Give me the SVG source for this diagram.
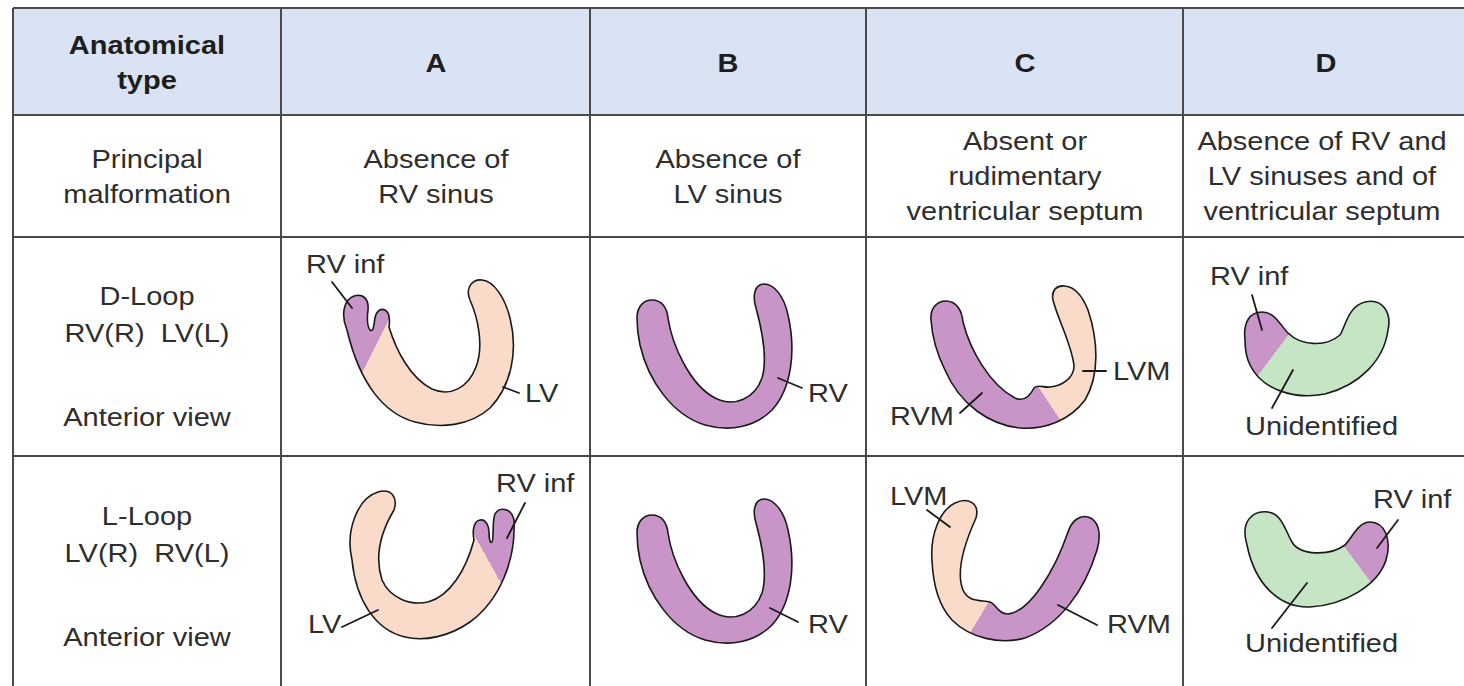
<svg xmlns="http://www.w3.org/2000/svg" width="1464" height="686" viewBox="0 0 1464 686">
  <style>
    .grid { stroke: #4a4a4a; stroke-width: 2; fill: none; }
    .hdr { fill: #dae3f3; }
    .t { font-family: "Liberation Sans", Arial, sans-serif; font-size: 25px; fill: #2e2e2e; text-anchor: middle; }
    .tb { font-family: "Liberation Sans", Arial, sans-serif; font-size: 25px; font-weight: bold; fill: #1e1e1e; text-anchor: middle; }
    .lbl { font-family: "Liberation Sans", Arial, sans-serif; font-size: 25px; fill: #2e2e2e; text-anchor: start; }
    .heart { stroke: #1a1a1a; stroke-width: 1.6; stroke-linejoin: round; }
    .lead { stroke: #1a1a1a; stroke-width: 1.8; stroke-linecap: round; fill: none; }
  </style>
  <defs>
    <!-- two-tone fills: hard colour change along each chamber boundary -->
    <linearGradient id="gA1" gradientUnits="userSpaceOnUse" x1="367" y1="340" x2="385" y2="349">
      <stop offset="0.5" stop-color="#c994c7"/><stop offset="0.5" stop-color="#fadbc9"/>
    </linearGradient>
    <linearGradient id="gC1" gradientUnits="userSpaceOnUse" x1="1034" y1="413" x2="1064" y2="393">
      <stop offset="0.5" stop-color="#c994c7"/><stop offset="0.5" stop-color="#fadbc9"/>
    </linearGradient>
    <linearGradient id="gD1" gradientUnits="userSpaceOnUse" x1="1262" y1="345" x2="1286" y2="363">
      <stop offset="0.5" stop-color="#c994c7"/><stop offset="0.5" stop-color="#c6e5c5"/>
    </linearGradient>
    <linearGradient id="gA2" gradientUnits="userSpaceOnUse" x1="478" y1="563" x2="496" y2="553">
      <stop offset="0.5" stop-color="#fadbc9"/><stop offset="0.5" stop-color="#c994c7"/>
    </linearGradient>
    <linearGradient id="gC2" gradientUnits="userSpaceOnUse" x1="969" y1="612" x2="989" y2="624">
      <stop offset="0.5" stop-color="#fadbc9"/><stop offset="0.5" stop-color="#c994c7"/>
    </linearGradient>
    <linearGradient id="gD2" gradientUnits="userSpaceOnUse" x1="1350" y1="571" x2="1366" y2="559">
      <stop offset="0.5" stop-color="#c6e5c5"/><stop offset="0.5" stop-color="#c994c7"/>
    </linearGradient>
    <path id="uRV" d="M 637,318 C 637,305 645,300 652,300 C 662,300 667,308 668,318 C 672,345 690,385 715,398 C 735,408 755,398 762,378 C 768,358 762,330 756,308 C 752,295 755,284 764,284 C 774,284 784,296 788,315 C 796,350 792,388 772,410 C 755,427 730,432 705,425 C 672,415 648,380 640,345 C 638,336 637,327 637,318 Z"/>
  </defs>

  <rect width="1464" height="686" fill="#ffffff"/>

  <!-- table frame -->
  <g id="table">
    <rect class="hdr" x="13" y="8" width="1462" height="107"/>
    <path class="grid" d="M 13,8 H 1475 M 13,115 H 1475 M 13,237 H 1475 M 13,456 H 1475 M 13,8 V 686 M 281,8 V 686 M 590,8 V 686 M 866,8 V 686 M 1183,8 V 686"/>
  </g>

  <!-- header row -->
  <g id="header">
    <text class="tb" transform="translate(147 54) scale(1.16 1)">Anatomical</text>
    <text class="tb" transform="translate(147 89) scale(1.16 1)">type</text>
    <text class="tb" transform="translate(436 72) scale(1.16 1)">A</text>
    <text class="tb" transform="translate(728 72) scale(1.16 1)">B</text>
    <text class="tb" transform="translate(1025 72) scale(1.16 1)">C</text>
    <text class="tb" transform="translate(1326 72) scale(1.16 1)">D</text>
  </g>

  <!-- principal malformation row -->
  <g id="malformation">
    <text class="t" transform="translate(147 168) scale(1.16 1)">Principal</text>
    <text class="t" transform="translate(147 203) scale(1.16 1)">malformation</text>
    <text class="t" transform="translate(436 168) scale(1.16 1)">Absence of</text>
    <text class="t" transform="translate(436 203) scale(1.16 1)">RV sinus</text>
    <text class="t" transform="translate(728 168) scale(1.16 1)">Absence of</text>
    <text class="t" transform="translate(728 203) scale(1.16 1)">LV sinus</text>
    <text class="t" transform="translate(1025 150) scale(1.16 1)">Absent or</text>
    <text class="t" transform="translate(1025 185) scale(1.16 1)">rudimentary</text>
    <text class="t" transform="translate(1025 220) scale(1.16 1)">ventricular septum</text>
    <text class="t" transform="translate(1322 150) scale(1.16 1)">Absence of RV and</text>
    <text class="t" transform="translate(1322 185) scale(1.16 1)">LV sinuses and of</text>
    <text class="t" transform="translate(1322 220) scale(1.16 1)">ventricular septum</text>
  </g>

  <!-- row labels -->
  <g id="dloop-label">
    <text class="t" transform="translate(147 305) scale(1.16 1)">D-Loop</text>
    <text class="t" xml:space="preserve" transform="translate(147 342) scale(1.16 1)">RV(R)  LV(L)</text>
    <text class="t" transform="translate(147 426) scale(1.16 1)">Anterior view</text>
  </g>
  <g id="lloop-label">
    <text class="t" transform="translate(147 525) scale(1.16 1)">L-Loop</text>
    <text class="t" xml:space="preserve" transform="translate(147 562) scale(1.16 1)">LV(R)  RV(L)</text>
    <text class="t" transform="translate(147 646) scale(1.16 1)">Anterior view</text>
  </g>

  <!-- D-loop hearts -->
  <g id="dloop-A">
    <path class="heart" fill="url(#gA1)" d="M 347,330 C 341,316 343,300 354,296 C 364,293 369,300 368,310 C 367,318 367,326 370,330 C 374,333 374,322 375,318 C 376,311 381,308 385,310 C 390,313 390,320 389,327 C 396,350 410,378 432,389 C 450,397 468,388 476,367 C 484,346 478,318 470,300 C 465,288 472,279 482,280 C 494,281 505,298 510,318 C 518,350 512,385 490,408 C 470,426 440,429 415,422 C 385,414 360,385 347,330 Z"/>
    <text class="lbl" transform="translate(306 273) scale(1.16 1)">RV inf</text>
    <text class="lbl" transform="translate(525 402) scale(1.16 1)">LV</text>
  </g>
  <g id="dloop-B">
    <use href="#uRV" class="heart" fill="#c994c7"/>
    <text class="lbl" transform="translate(808 402) scale(1.16 1)">RV</text>
  </g>
  <g id="dloop-C">
    <path class="heart" fill="url(#gC1)" d="M 931,320 C 930,308 937,301 946,301 C 956,301 962,310 963,322 C 970,350 990,385 1015,398 C 1024,402 1030,396 1034,388 C 1038,384 1044,388 1050,387 C 1062,386 1074,378 1074,366 C 1072,345 1058,320 1053,300 C 1051,290 1057,285 1065,286 C 1075,287 1082,295 1088,310 C 1098,340 1100,375 1085,400 C 1070,420 1045,430 1020,428 C 990,425 960,405 945,370 C 936,352 932,335 931,320 Z"/>
    <text class="lbl" transform="translate(1113 380) scale(1.16 1)">LVM</text>
    <text class="lbl" transform="translate(890 425) scale(1.16 1)">RVM</text>
  </g>
  <g id="dloop-D">
    <path class="heart" fill="url(#gD1)" d="M 1245,340 C 1243,322 1250,312 1262,312 C 1275,312 1280,325 1288,333 C 1300,345 1325,348 1340,335 C 1345,328 1348,306 1365,302 C 1382,298 1392,312 1388,330 C 1384,360 1360,385 1325,394 C 1295,400 1262,390 1250,365 C 1246,357 1245,348 1245,340 Z"/>
    <text class="lbl" transform="translate(1210 285) scale(1.16 1)">RV inf</text>
    <text class="lbl" transform="translate(1245 435) scale(1.16 1)">Unidentified</text>
  </g>

  <!-- L-loop hearts -->
  <g id="lloop-A">
    <path class="heart" fill="url(#gA2)" d="M 352,560 C 345,530 358,498 378,492 C 392,488 398,498 394,510 C 382,530 374,555 382,580 C 390,598 410,606 428,602 C 450,596 466,570 474,540 C 472,530 474,521 480,520 C 486,519 489,526 489,532 C 489,538 490,544 492,542 C 494,540 492,520 495,514 C 499,507 511,507 514,520 C 516,560 500,600 470,622 C 450,636 425,642 405,637 C 375,630 356,600 352,560 Z"/>
    <text class="lbl" transform="translate(496 492) scale(1.16 1)">RV inf</text>
    <text class="lbl" transform="translate(308 633) scale(1.16 1)">LV</text>
  </g>
  <g id="lloop-B">
    <use href="#uRV" class="heart" fill="#c994c7" transform="translate(0 215)"/>
    <text class="lbl" transform="translate(808 633) scale(1.16 1)">RV</text>
  </g>
  <g id="lloop-C">
    <path class="heart" fill="url(#gC2)" d="M 932,560 C 930,535 940,510 955,503 C 968,497 980,503 976,518 C 966,540 955,570 963,590 C 968,602 980,600 990,602 C 996,604 998,614 1008,614 C 1030,612 1055,570 1068,532 C 1072,520 1080,515 1088,517 C 1098,520 1102,532 1097,550 C 1085,590 1060,625 1025,638 C 1000,645 970,638 952,620 C 938,605 933,585 932,560 Z"/>
    <text class="lbl" transform="translate(890 505) scale(1.16 1)">LVM</text>
    <text class="lbl" transform="translate(1107 633) scale(1.16 1)">RVM</text>
  </g>
  <g id="lloop-D">
    <path class="heart" fill="url(#gD2)" d="M 1247,545 C 1240,522 1252,510 1268,512 C 1282,514 1285,530 1292,542 C 1300,556 1330,556 1345,545 C 1352,538 1358,522 1370,522 C 1385,522 1392,540 1386,560 C 1378,585 1345,605 1310,607 C 1280,608 1255,585 1247,545 Z"/>
    <text class="lbl" transform="translate(1373 508) scale(1.16 1)">RV inf</text>
    <text class="lbl" transform="translate(1245 652) scale(1.16 1)">Unidentified</text>
  </g>

  <!-- label leader lines -->
  <g id="leaders">
    <path class="lead" d="M 332,282 L 352,308"/>
    <path class="lead" d="M 503,387 L 519,393"/>
    <path class="lead" d="M 778,378 L 802,388"/>
    <path class="lead" d="M 1083,371 L 1106,371"/>
    <path class="lead" d="M 982,393 L 960,413"/>
    <path class="lead" d="M 1252,295 L 1262,330"/>
    <path class="lead" d="M 1293,370 L 1272,408"/>
    <path class="lead" d="M 525,503 L 507,538"/>
    <path class="lead" d="M 342,627 L 378,610"/>
    <path class="lead" d="M 770,608 L 798,622"/>
    <path class="lead" d="M 927,510 L 950,527"/>
    <path class="lead" d="M 1058,605 L 1097,625"/>
    <path class="lead" d="M 1398,520 L 1377,548"/>
    <path class="lead" d="M 1307,583 L 1272,628"/>
  </g>
</svg>
